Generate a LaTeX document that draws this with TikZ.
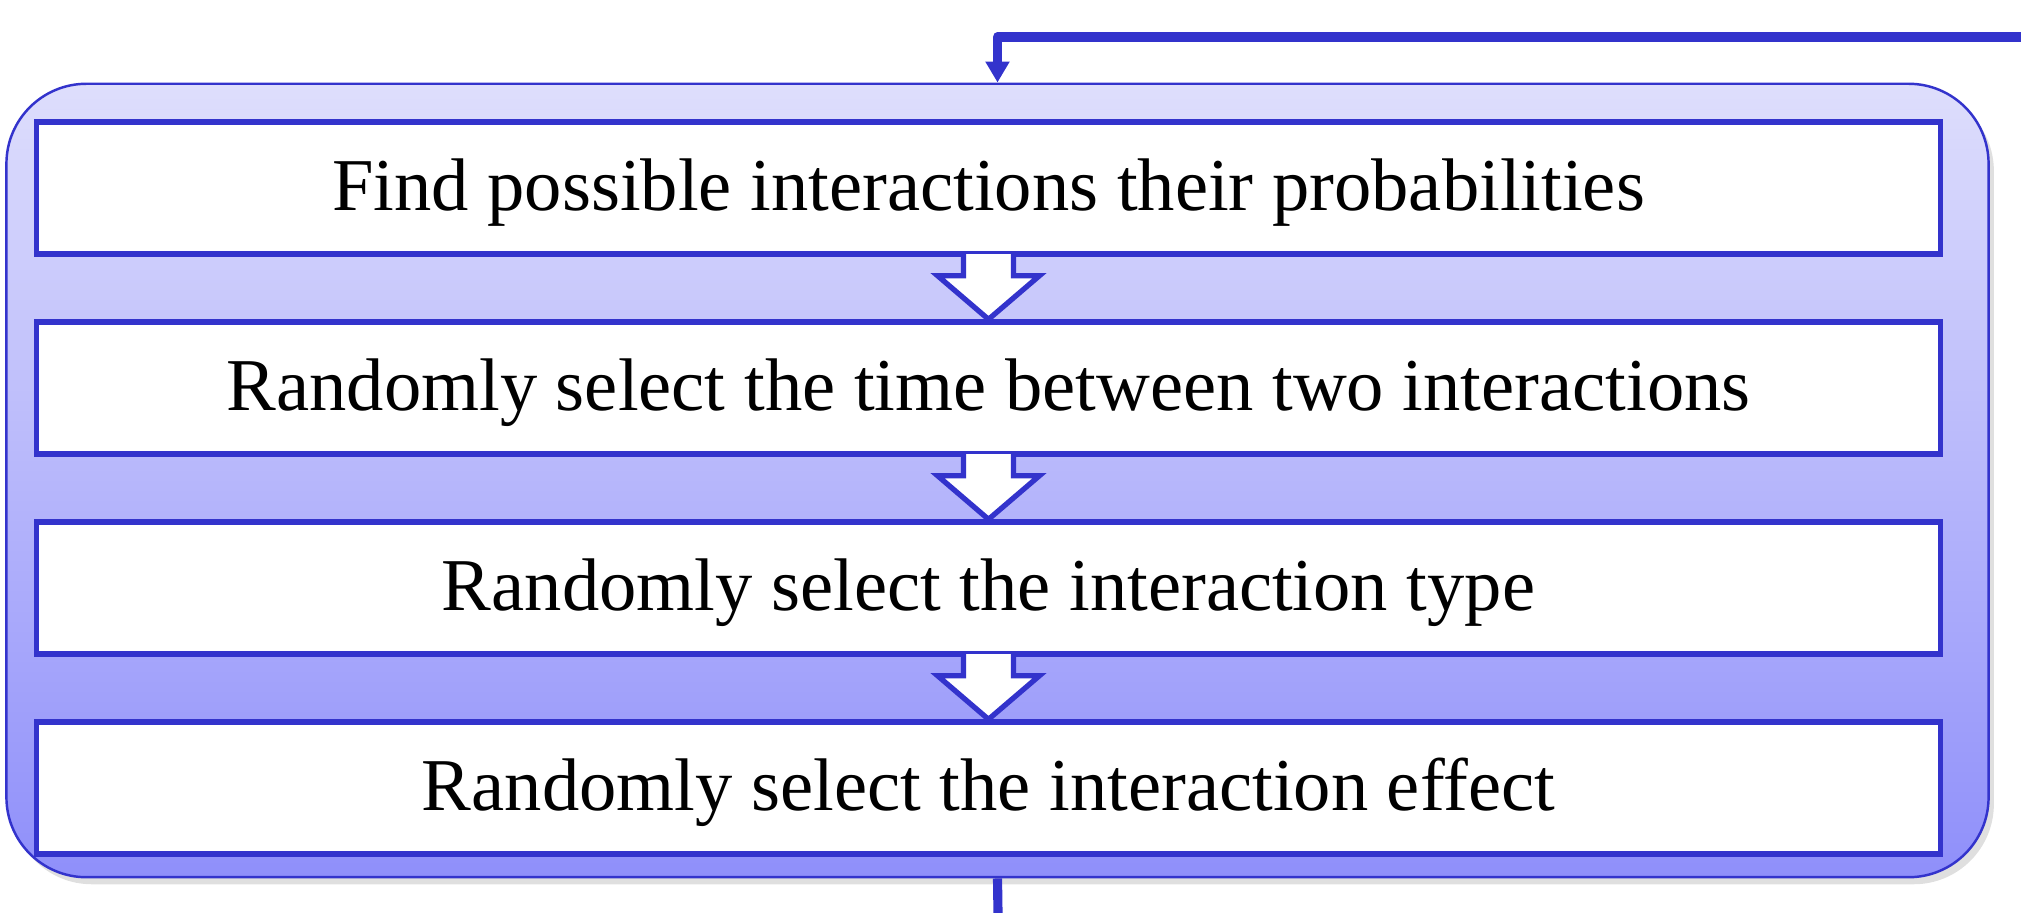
\documentclass[tikz,border=0pt]{standalone}
\usepackage{fontspec}  % system fonts
\setmainfont{Liberation Serif}
\usepackage{tikz}
\usetikzlibrary{arrows.meta}
\usetikzlibrary{shadows}

\definecolor{flowblue}{RGB}{51,51,204}
\definecolor{paneltop}{RGB}{222,222,252}
\definecolor{panelbottom}{RGB}{143,143,250}

\tikzset{
  stepbox/.style={draw=flowblue, line width=1.5pt, fill=white,
    minimum width=19.03cm, minimum height=1.32cm, inner sep=0pt,
    text height=0.5cm, text depth=0.06cm,
    font=\fontsize{21.2}{25}\selectfont},
  panel/.style={draw=flowblue, line width=0.7pt, rounded corners=0.8cm,
    top color=paneltop, bottom color=panelbottom,
    minimum width=19.81cm, minimum height=7.93cm, inner sep=0pt,
    drop shadow={shadow xshift=1.5pt, shadow yshift=-2pt, opacity=0.25}},
  loopline/.style={draw=flowblue, line width=2.6pt, line join=round},
  blockarrow/.style={draw=flowblue, line width=1.5pt, fill=white, line join=miter}
}

\begin{document}
\begin{tikzpicture}[x=0.01cm, y=-0.01cm]
\useasboundingbox (0,0) rectangle (2021,913);

% outer panel
\node[panel] (panel) at (997.5,480.5) {};

% the four steps
\node[stepbox] (find)   at (988.5,188) {Find possible interactions their probabilities};
\node[stepbox] (time)   at (988.5,388) {Randomly select the time between two interactions};
\node[stepbox] (type)   at (988.5,588) {Randomly select the interaction type};
\node[stepbox] (effect) at (988.5,788) {Randomly select the interaction effect};

% block arrows between steps
\foreach \a/\b in {find/time, time/type, type/effect}{
  \begin{scope}[shift={(\a.south)}]
  \draw[blockarrow]
  (-25,-2.5) -- (-25,19) -- (-51,19) -- (\b.north) -- (51,19) -- (25,19) -- (25,-2.5);
  \end{scope}
}

% loop back in and out
\coordinate (loopin) at (2021,37);
\coordinate (loopout) at (998,913);
\draw[loopline, -{Triangle[width=0.23cm, length=0.21cm]}]
(loopin) -| (panel.north);
\draw[loopline]
(panel.south) -- (loopout);
\end{tikzpicture}
\end{document}
